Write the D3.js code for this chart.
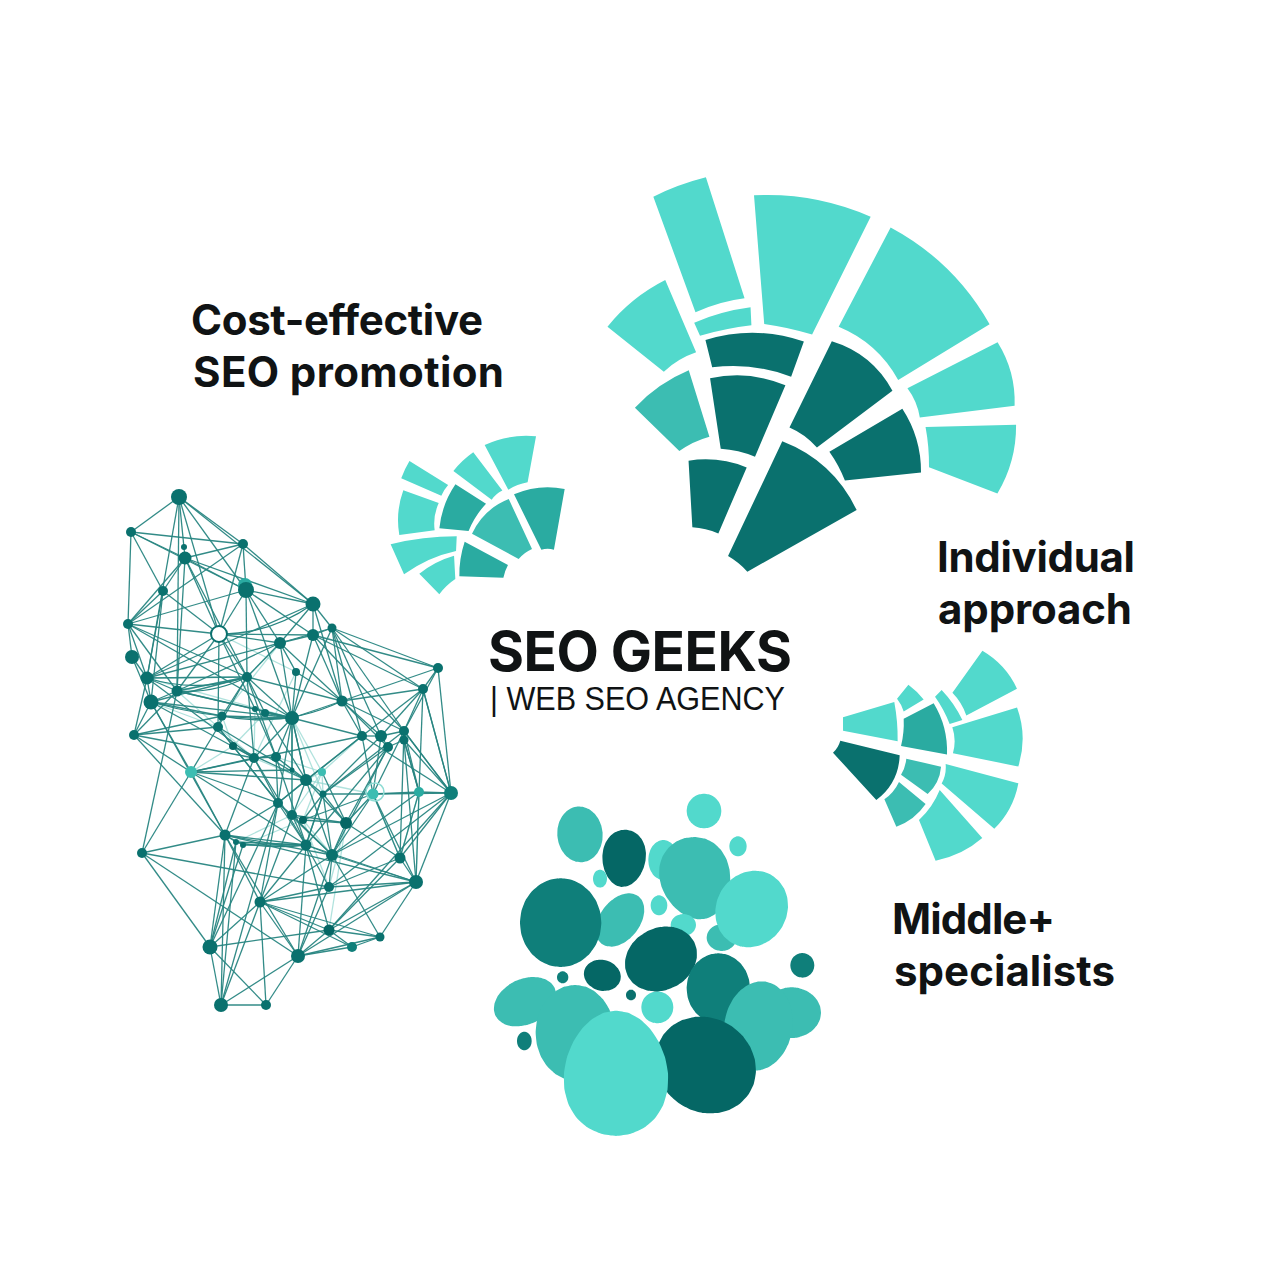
<!DOCTYPE html>
<html>
<head>
<meta charset="utf-8">
<script src="https://cdn.jsdelivr.net/npm/d3@7"></script>
<style>
  body { margin: 0; background: #fff; }
  text { font-family: Inter, "Liberation Sans", sans-serif; fill: #101314; }
</style>
</head>
<body>
<div id="chart"></div>
<script>
// Shades of teal, from lightest to darkest.
const tones = ["#52d9cc", "#3cbdb2", "#2aaba1", "#0f7f7a", "#0a716e", "#056765"];

// Fan cells: four polar corners [angle, radius, ...].
const bigCorners = [
  [-6.6,406.0,0.8,422.7,8.4,305.0,-0.9,287.7],
  [-1.2,277.4,9.8,297.0,10.6,279.4,0.0,264.3],
  [7.6,408.3,24.0,419.6,22.9,288.1,13.1,283.4],
  [27.1,418.5,46.4,399.9,42.0,296.2,26.9,306.5],
  [49.1,393.7,58.3,369.8,50.3,285.7,44.4,296.5],
  [61.0,361.4,70.3,315.9,59.9,264.7,52.5,284.3],
  [-18.7,288.6,-6.2,321.9,-0.9,247.7,-9.0,231.2],
  [-18.7,203.0,-2.8,229.9,3.3,163.6,-7.9,150.4],
  [1.2,260.1,21.9,278.5,22.2,241.2,3.0,233.0],
  [2.6,221.9,21.7,231.0,21.0,153.5,7.8,152.7],
  [-4.7,139.8,19.4,140.6,15.4,69.1,-6.0,73.1],
  [27.0,290.4,42.6,284.3,37.5,192.1,27.4,194.4],
  [46.6,278.5,60.0,255.2,50.5,187.8,41.1,196.8],
  [27.4,178.8,60.1,180.7,59.1,55.2,32.5,52.2]
];
const bigBulge = [[1.5,2],[2,1],[7,1],[10,7],[5,2],[5,1],[4,2],[3.5,1.5],[8,5],[6,1.5],[4,1],[8,2],[5,1],[10,1]];
const bigTone = [0,0,0,0,0,0,0,1,4,4,4,4,4,4];

const leftCorners = [
  [11.2,178.4,25.1,202.8,29.4,158.1,24.1,142.8],
  [1.3,149.0,7.9,169.3,22.0,139.8,19.1,127.3],
  [-19.0,149.8,-14.3,164.1,-0.8,135.0,-4.0,124.6],
  [-30.8,99.0,-19.8,137.8,-5.5,117.5,-9.7,91.0],
  [-6.6,92.3,2.3,135.8,17.2,121.8,11.8,90.9],
  [14.3,89.1,25.9,134.5,49.1,108.5,48.4,91.8],
  [27.0,141.0,41.2,174.1,55.9,125.5,52.4,115.3],
  [-38.1,96.2,4.6,83.9,5.0,69.3,-45.2,64.8],
  [-33.5,55.6,3.6,64.5,7.4,41.3,-22.6,27.8],
  [12.1,44.7,10.6,79.7,46.5,79.9,51.6,68.1]
];
const leftBulge = [[3.5,1],[1,1],[0.5,0.5],[3,2],[3,1.5],[5,1],[4,1],[2,3],[2,1],[1.5,0.5]];
const leftTone = [0,0,0,0,2,1,2,0,0,2];

const rightCorners = [
  [59.1,212.6,71.8,228.4,75.0,172.2,66.2,166.6],
  [76.4,223.3,91.7,218.4,87.5,153.1,77.9,155.8],
  [96.1,219.6,109.5,206.1,99.4,143.6,91.6,145.7],
  [113.2,198.3,126.6,168.9,116.8,133.3,102.1,142.9],
  [58.4,110.7,79.2,99.4,55.7,52.1,45.2,60.6],
  [55.2,132.0,63.9,137.7,64.9,114.5,57.7,114.8],
  [67.0,145.2,87.9,147.1,82.1,102.0,68.3,111.6],
  [63.7,158.0,76.2,167.2,76.5,153.9,64.9,149.1],
  [87.3,99.8,117.7,86.2,77.5,33.8,64.4,44.7],
  [92.7,141.2,104.9,132.1,98.3,102.1,89.3,106.3],
  [109.3,133.1,124.7,117.2,115.0,93.1,102.5,101.4]
];
const rightBulge = [[4,1.5],[5,2],[4,1.5],[3.5,2],[1,0],[0.7,0.7],[4,1],[1.5,1],[6,1],[3,1],[3,1.5]];
const rightTone = [0,0,0,0,0,0,2,0,4,1,1];

// Bubble cluster.
const bubbleX = [285,657,417,345,759,535,632,522,405,227,595,710,800,517,528,352,233,952,438,700,920,820,120,270,118,662,393];
const bubbleY = [148,78,220,281,184,225,280,361,405,413,420,458,372,667,522,571,577,541,630,610,683,723,650,743,768,840,865];
const bubbleRx = [68,52,65,21,26,45,105,25,60,122,38,45,106,48,112,56,17,36,15,95,88,102,98,118,22,156,156];
const bubbleRy = [84,52,86,27,30,60,125,30,90,133,33,40,118,48,93,46,18,37,16,105,76,135,68,143,28,140,188];
const bubbleTilt = [-5,0,5,0,0,0,-15,0,38,0,0,0,30,0,-28,15,0,0,0,0,0,10,-25,0,0,35,0];
const bubbleEgg = [0,0,-0.08,0,0,0,-0.1,0,0,0,0,0,0,0,0,0,0,0,0,0,0,0,0,0,0,0,0.1];
const bubbleTone = [1,0,5,0,0,0,1,0,1,3,0,1,0,0,5,5,3,3,4,3,1,1,1,1,3,5,0];

// Network nodes.
const nodeX = [69,21,133,75,74,53,136,203,18,109,222,203,170,22,328,137,186,37,67,313,41,232,145,155,112,182,108,24,252,271,294,294,278,123,144,166,81,182,196,212,213,263,309,341,168,182,193,236,115,126,133,196,222,290,32,306,219,150,219,270,242,100,188,111,156,135];
const nodeY = [17,52,64,78,67,111,110,124,144,154,148,155,163,177,188,197,192,198,211,209,222,221,229,233,236,238,247,255,256,256,251,260,267,266,278,277,292,290,300,292,314,314,312,313,323,335,340,343,355,362,365,365,375,378,373,402,407,422,450,457,467,467,476,525,525,105];
const nodeSize = [8,5,5,6.5,3,5,8,7.5,5,9,4.5,6,6,7,5,5,4,6.5,5.5,5,7.5,5.5,3,4,4.5,7,5,5,5,6,5,4.5,5,4,5,5,6,2.5,6,4,3.5,5.5,5,7,5,5,4,6,5.5,3,3,5.5,6,5.5,5,7,5,5.5,5.5,4.5,5,7.5,7,7,5,7];
const nodeTone = [4,4,4,4,4,4,4,4,4,-1,4,4,4,4,4,4,4,4,4,4,4,4,4,4,4,4,4,4,4,4,4,4,4,5,4,4,1,4,4,1,4,1,2,3,4,4,5,5,4,4,4,4,4,4,4,4,4,4,5,4,3,4,4,4,4,2];

const solidLinks = [
  [0,1],[0,2],[0,3],[0,17],[0,18],[0,9],[0,6],[0,7],[1,2],[1,3],[1,5],[1,8],[1,6],
  [2,3],[2,7],[2,6],[2,8],[2,9],[3,6],[3,7],[3,5],[3,18],[3,9],[3,8],[3,15],
  [5,8],[5,9],[5,17],[5,20],[6,7],[6,9],[6,12],[6,11],[6,15],[6,25],[6,8],
  [7,12],[7,11],[7,10],[7,17],[7,21],[8,9],[8,13],[8,15],[8,17],[8,25],[8,18],
  [9,15],[9,18],[9,17],[9,22],[9,11],[9,12],[9,26],[10,11],[10,14],[10,19],[10,21],[10,12],[10,25],[10,28],[10,30],[10,29],
  [11,12],[11,14],[11,25],[11,21],[11,30],[11,19],[12,15],[12,25],[12,18],[12,17],[12,16],[12,21],
  [13,17],[13,20],[14,19],[14,21],[14,30],[14,43],[15,18],[15,25],[15,17],[15,20],[15,21],[15,26],[15,24],
  [16,21],[16,25],[17,18],[17,20],[17,27],[17,34],[18,20],[18,27],[18,22],[18,25],
  [19,30],[19,29],[19,43],[19,42],[19,28],[20,27],[20,25],[20,24],[20,34],[20,48],
  [21,25],[21,28],[21,30],[21,32],[21,29],[21,19],[22,25],[23,25],[23,15],
  [25,28],[25,38],[25,34],[25,35],[25,37],[24,26],[24,25],[26,27],[27,34],[27,36],[27,48],[27,24],[33,26],[33,34],
  [28,29],[28,43],[29,30],[30,31],[31,32],[29,32],[32,52],[32,51],[30,43],[31,43],[31,42],
  [54,48],[54,36],[54,56],[54,61],[54,62],[54,18],[61,48],[61,57],[61,63],[61,64],[61,58],[61,49],[61,44],[61,50],
  [63,64],[63,62],[63,57],[63,48],[63,44],[63,49],[64,62],[64,57],
  [62,60],[62,58],[62,59],[62,56],[62,55],[62,57],[62,48],[62,52],[62,51],[60,59],[60,58],[60,57],
  [59,55],[59,58],[59,57],[59,52],[58,55],[58,57],[58,53],[58,43],[58,51],
  [57,56],[57,55],[57,51],[57,52],[57,48],[57,44],[57,38],[56,55],[56,52],[56,51],[56,53],[56,43],
  [55,53],[55,52],[55,43],[55,42],[55,51],[55,48],[55,41],[53,43],[53,42],[53,41],[53,47],
  [52,43],[52,42],[52,41],[52,51],[52,48],[52,47],[51,48],[51,49],[51,50],[51,44],[51,45],[51,40],
  [48,36],[48,50],[48,49],[48,34],[48,44],[47,40],[47,45],[47,46],[47,41],
  [43,42],[43,41],[43,30],[43,19],[42,41],[42,30],[42,31],[41,40],[41,29],[41,28],[41,30],[41,46],
  [38,40],[38,25],[38,44],[38,36],[36,26],[36,20],[36,37],[36,34],[36,28],[36,44],[36,51],
  [34,35],[35,38],[34,44],[35,44],[44,45],[45,46],[40,46],[33,44],
  [15,34],[15,35],[22,35],[23,38],[25,44],[25,45],[26,44],[26,38],[33,38],[34,51],[35,51],[38,47],[38,52],
  [39,47],[40,52],[40,51],[44,52],[45,52],[28,38],[28,44],[30,40],[29,40],[32,40],[32,47],[31,55],[30,53]
];
const faintLinks = [
  [17,25],[18,15],[17,15],[18,26],[20,26],[15,12],[9,16],[16,34],[12,24],[35,39],[39,40],[39,38],
  [39,28],[39,45],[38,41],[41,47],[41,53],[39,46],[26,34],[24,33],[25,39],[25,40],[34,38],[33,36],
  [37,40],[37,45],[49,51],[50,51],[49,45],[50,46],[52,46],[56,46],[58,47],[56,47],[53,42],[55,42],
  [16,12],[23,33],[22,34],[35,40]
];
// Curved links: [from, to, bend].
const curvedLinks = [[9,7,-8],[17,15,-8],[24,21,-10],[20,25,-6],[18,15,-5],[49,51,-3]];

const titleLines = ["SEO GEEKS", "| WEB SEO AGENCY"];
const captions = [
  { lines: ["Cost-effective", "SEO promotion"], widths: [292, 311], x: [191, 193], y: 335 },
  { lines: ["Individual", "approach"], widths: [198, 194], x: [937, 938], y: 572 },
  { lines: ["Middle+", "specialists"], widths: [163, 221], x: [892, 894], y: 934 }
];

const size = 1280;
const svg = d3.select("#chart").append("svg").attr("width", size).attr("height", size);
const tone = d3.scaleOrdinal(d3.range(tones.length), tones);

// Polar scales shared by the three fans.
const angle = d3.scaleLinear().domain([0, 360]).range([0, 2 * Math.PI]);
const radius = d3.scaleLinear().domain([0, 500]).range([0, 500]);

function quadEdge(path, from, to, bulge) {
  const dx = to[0] - from[0], dy = to[1] - from[1], len = Math.hypot(dx, dy) || 1;
  path.quadraticCurveTo(
    (from[0] + to[0]) / 2 + dy / len * bulge * 2,
    (from[1] + to[1]) / 2 - dx / len * bulge * 2,
    to[0], to[1]);
}

function cellPath(corners, bulge) {
  const p = d3.range(4).map(i => d3.pointRadial(angle(corners[i * 2]), radius(corners[i * 2 + 1])));
  const path = d3.path();
  path.moveTo(p[0][0], p[0][1]);
  quadEdge(path, p[0], p[1], bulge[0]);
  path.lineTo(p[2][0], p[2][1]);
  quadEdge(path, p[2], p[3], -bulge[1]);
  path.closePath();
  return path.toString();
}

function drawFan(corners, bulge, cellTone, cx, cy) {
  svg.append("g")
    .attr("transform", `translate(${cx},${cy})`)
    .selectAll("path")
    .data(corners)
    .join("path")
    .attr("d", (d, i) => cellPath(d, bulge[i]))
    .attr("fill", (d, i) => tone(cellTone[i]));
}

drawFan(bigCorners, bigBulge, bigTone, 700, 600);
drawFan(leftCorners, leftBulge, leftTone, 450, 620);
drawFan(rightCorners, rightBulge, rightTone, 800, 760);

// Bubbles: slightly egg shaped blobs.
const bx = d3.scaleLinear().domain([0, 1035]).range([485, 830]);
const by = d3.scaleLinear().domain([0, 1080]).range([785, 1145]);
const br = d3.scaleLinear().domain([0, 1035]).range([0, 345]);
const outline = d3.line().curve(d3.curveCardinalClosed.tension(0.5));

svg.append("g").selectAll("path")
  .data(bubbleX)
  .join("path")
  .attr("transform", (d, i) => `translate(${bx(d)},${by(bubbleY[i])}) rotate(${bubbleTilt[i]})`)
  .attr("d", (d, i) => outline(d3.range(24).map(k => {
    const t = k / 24 * 2 * Math.PI;
    return [br(bubbleRx[i]) * Math.cos(t) * (1 + bubbleEgg[i] * Math.sin(t)), br(bubbleRy[i]) * Math.sin(t)];
  })))
  .attr("fill", (d, i) => tone(bubbleTone[i]));

// Network.
const nx = d3.scaleLinear().domain([0, 360]).range([110, 470]);
const ny = d3.scaleLinear().domain([0, 540]).range([480, 1020]);
const net = svg.append("g");

function drawLinks(list, color, width, opacity) {
  net.append("g")
    .attr("stroke", color)
    .attr("stroke-width", width)
    .attr("stroke-opacity", opacity)
    .selectAll("line")
    .data(list)
    .join("line")
    .attr("x1", d => nx(nodeX[d[0]]))
    .attr("y1", d => ny(nodeY[d[0]]))
    .attr("x2", d => nx(nodeX[d[1]]))
    .attr("y2", d => ny(nodeY[d[1]]));
}
drawLinks(faintLinks, "#8ed6cf", 1.3, 0.7);
drawLinks(solidLinks, "#278581", 1.3, 0.95);

net.append("g")
  .attr("fill", "none")
  .attr("stroke", "#278581")
  .attr("stroke-width", 1.3)
  .selectAll("path")
  .data(curvedLinks)
  .join("path")
  .attr("d", d => {
    const from = [nx(nodeX[d[0]]), ny(nodeY[d[0]])], to = [nx(nodeX[d[1]]), ny(nodeY[d[1]])];
    const path = d3.path();
    path.moveTo(from[0], from[1]);
    quadEdge(path, from, to, d[2]);
    return path.toString();
  });

net.append("g").selectAll("circle")
  .data(d3.range(nodeX.length).reverse())
  .join("circle")
  .attr("cx", i => nx(nodeX[i]))
  .attr("cy", i => ny(nodeY[i]))
  .attr("r", i => nodeTone[i] < 0 ? nodeSize[i] - 1 : nodeSize[i])
  .attr("fill", i => nodeTone[i] < 0 ? "#fff" : tone(nodeTone[i]))
  .attr("stroke", i => nodeTone[i] < 0 ? tone(4) : "none")
  .attr("stroke-width", 2);

// Ring around the pale node on the right.
net.append("circle")
  .attr("cx", nx(nodeX[41]) + 2)
  .attr("cy", ny(nodeY[41]) - 2)
  .attr("r", 9)
  .attr("fill", "none")
  .attr("stroke", "#8fdcd4")
  .attr("stroke-width", 1.5);

// Text.
svg.append("text").attr("x", 488).attr("y", 671)
  .attr("font-size", 55).attr("font-weight", 700)
  .attr("textLength", 304).text(titleLines[0]);
svg.append("text").attr("x", 490).attr("y", 710)
  .style("font-family", "'Liberation Sans'")
  .attr("font-size", 33).attr("font-weight", 400)
  .attr("textLength", 295).attr("lengthAdjust", "spacingAndGlyphs")
  .text(titleLines[1]);

captions.forEach(c => {
  c.lines.forEach((line, i) => {
    svg.append("text")
      .attr("x", c.x[i])
      .attr("y", c.y + i * 51.5)
      .attr("font-size", 42)
      .attr("font-weight", 700)
      .attr("textLength", c.widths[i])
      .text(line);
  });
});
</script>
</body>
</html>
